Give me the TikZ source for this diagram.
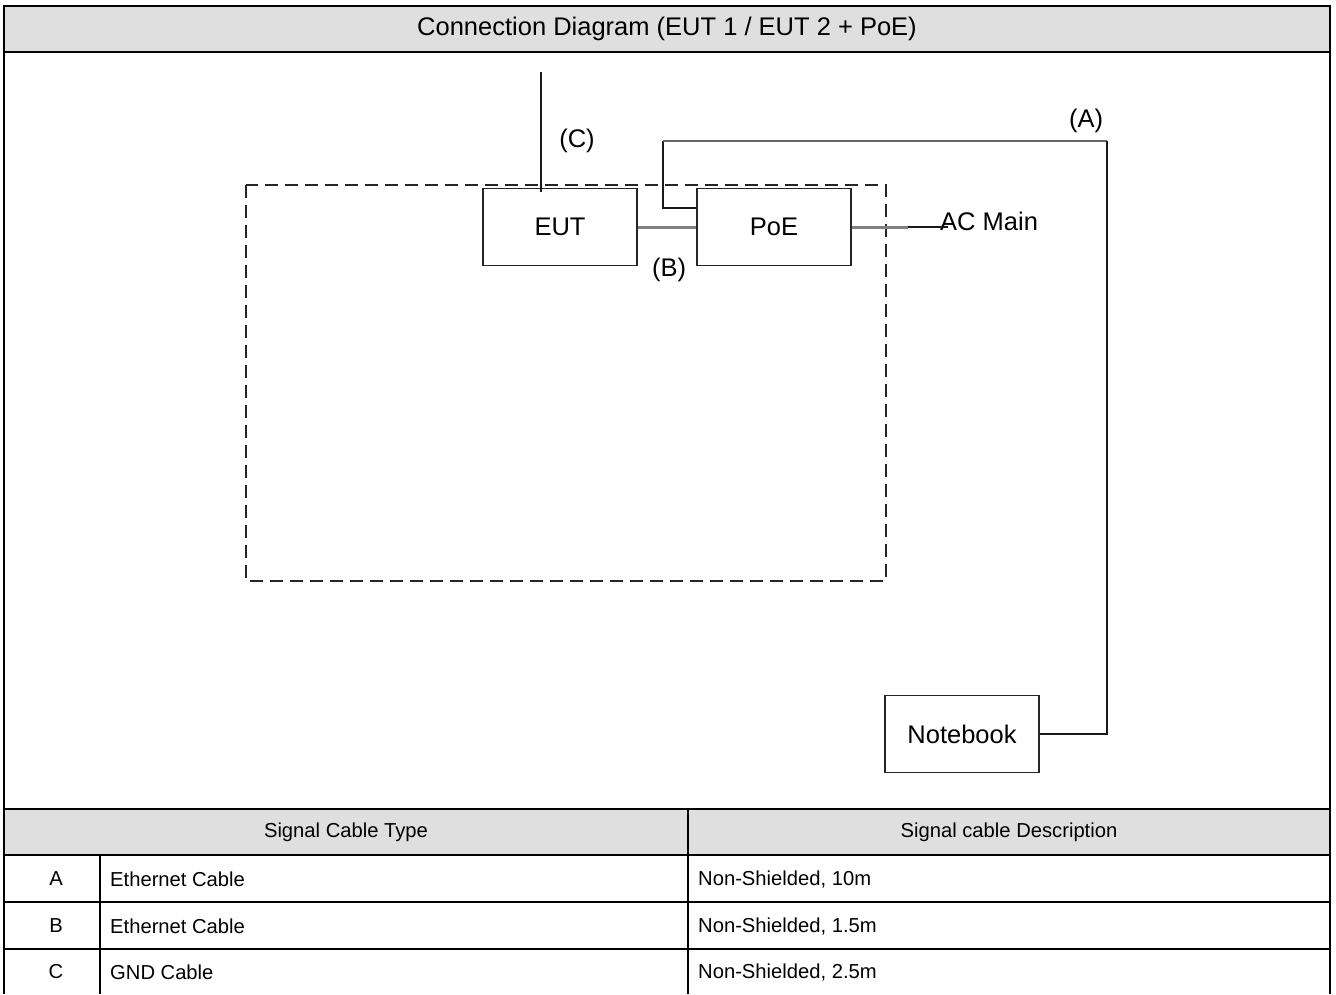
\documentclass[tikz,border=0pt]{standalone}
\usepackage{fontspec}
\setmainfont{Liberation Sans}
\begin{document}
\begin{tikzpicture}[x=1pt,y=-1pt,
  frame/.style={line width=2.2pt,black},
  hdrfill/.style={fill=black!12.5},
  box/.style={draw=black!85,line width=1.5pt,minimum width=154pt,minimum height=77pt,font=\fontsize{25.5}{30}\selectfont,inner sep=0pt},
  lbl/.style={font=\fontsize{25.5}{30}\selectfont,inner sep=0pt},
  cell/.style={font=\fontsize{20.2}{24}\selectfont,inner sep=0pt},
  ttl/.style={font=\fontsize{25.5}{30}\selectfont,inner sep=0pt},
  wire/.style={line width=1.5pt,black!90},
  gwire/.style={line width=3pt,black!50},
  encl/.style={draw=black!85,line width=2pt,dash pattern=on 13pt off 7pt}]
\useasboundingbox (0,0) rectangle (1336,994);
% shaded rows
\fill[hdrfill] (4,6) rectangle (1330,52);
\fill[hdrfill] (4,809) rectangle (1330,855);
% table frame
\draw[frame] (4,994) -- (4,6) -- (1330,6) -- (1330,994);
\draw[frame] (4,52) -- (1330,52);
\draw[frame] (4,809) -- (1330,809);
\draw[frame] (4,855) -- (1330,855);
\draw[frame] (4,902) -- (1330,902);
\draw[frame] (4,949) -- (1330,949);
\draw[frame] (688,809) -- (688,994);
\draw[frame] (100,855) -- (100,994);
% texts
\node[ttl] (title) at (667,29) {Connection Diagram (EUT 1 / EUT 2 + PoE)};
\node[cell] (h1) at (346,832) {Signal Cable Type};
\node[cell] (h2) at (1009,832) {Signal cable Description};
\node[cell] (la) at (56,879) {A};
\node[cell] (lb) at (56,926) {B};
\node[cell] (lc) at (56,972) {C};
\node[cell,anchor=west] (ta) at (110,879) {Ethernet Cable};
\node[cell,anchor=west] (tb) at (110,926) {Ethernet Cable};
\node[cell,anchor=west] (tc) at (110,972) {GND Cable};
\node[cell,anchor=west] (da) at (698,879) {Non-Shielded, 10m};
\node[cell,anchor=west] (db) at (698,926) {Non-Shielded, 1.5m};
\node[cell,anchor=west] (dc) at (698,972) {Non-Shielded, 2.5m};
% diagram
\draw[encl] (246,185) rectangle (886,581);
\node[box] (eut) at (560,227) {EUT};
\node[box] (poe) at (774,227) {PoE};
\node[box] (nb) at (962,734) {Notebook};
\node[lbl,anchor=west] (acmain) at (940,221) {AC Main};
\node[lbl] (lA) at (1086,121) {(A)};
\node[lbl] (lB) at (669,270) {(B)};
\node[lbl] (lC) at (577,141) {(C)};
\coordinate (ctop) at (541,72);
\coordinate (a1) at (663,208);
\coordinate (a2) at (663,141);
\coordinate (a3) at (1107,141);
\coordinate (a4) at (1107,734);
% C cable
\draw[wire] (ctop) -- (ctop |- eut.north) -- ++(0,4);
% A cable
\draw[wire] (poe.west |- a1) -- (a1) -- (a2);
\draw[line width=2.2pt,black!60] (a2) -- (a3);
\draw[wire] (a3) -- (a4) -- (nb.east |- a4);
% B cable
\draw[gwire] (eut.east |- 0,227) -- (poe.west |- 0,227);
% AC main
\draw[gwire] (poe.east |- 0,227) -- (908,227);
\draw[wire] (908,227) -- (acmain.west |- 0,227) -- ++(8,0);
\end{tikzpicture}
\end{document}
